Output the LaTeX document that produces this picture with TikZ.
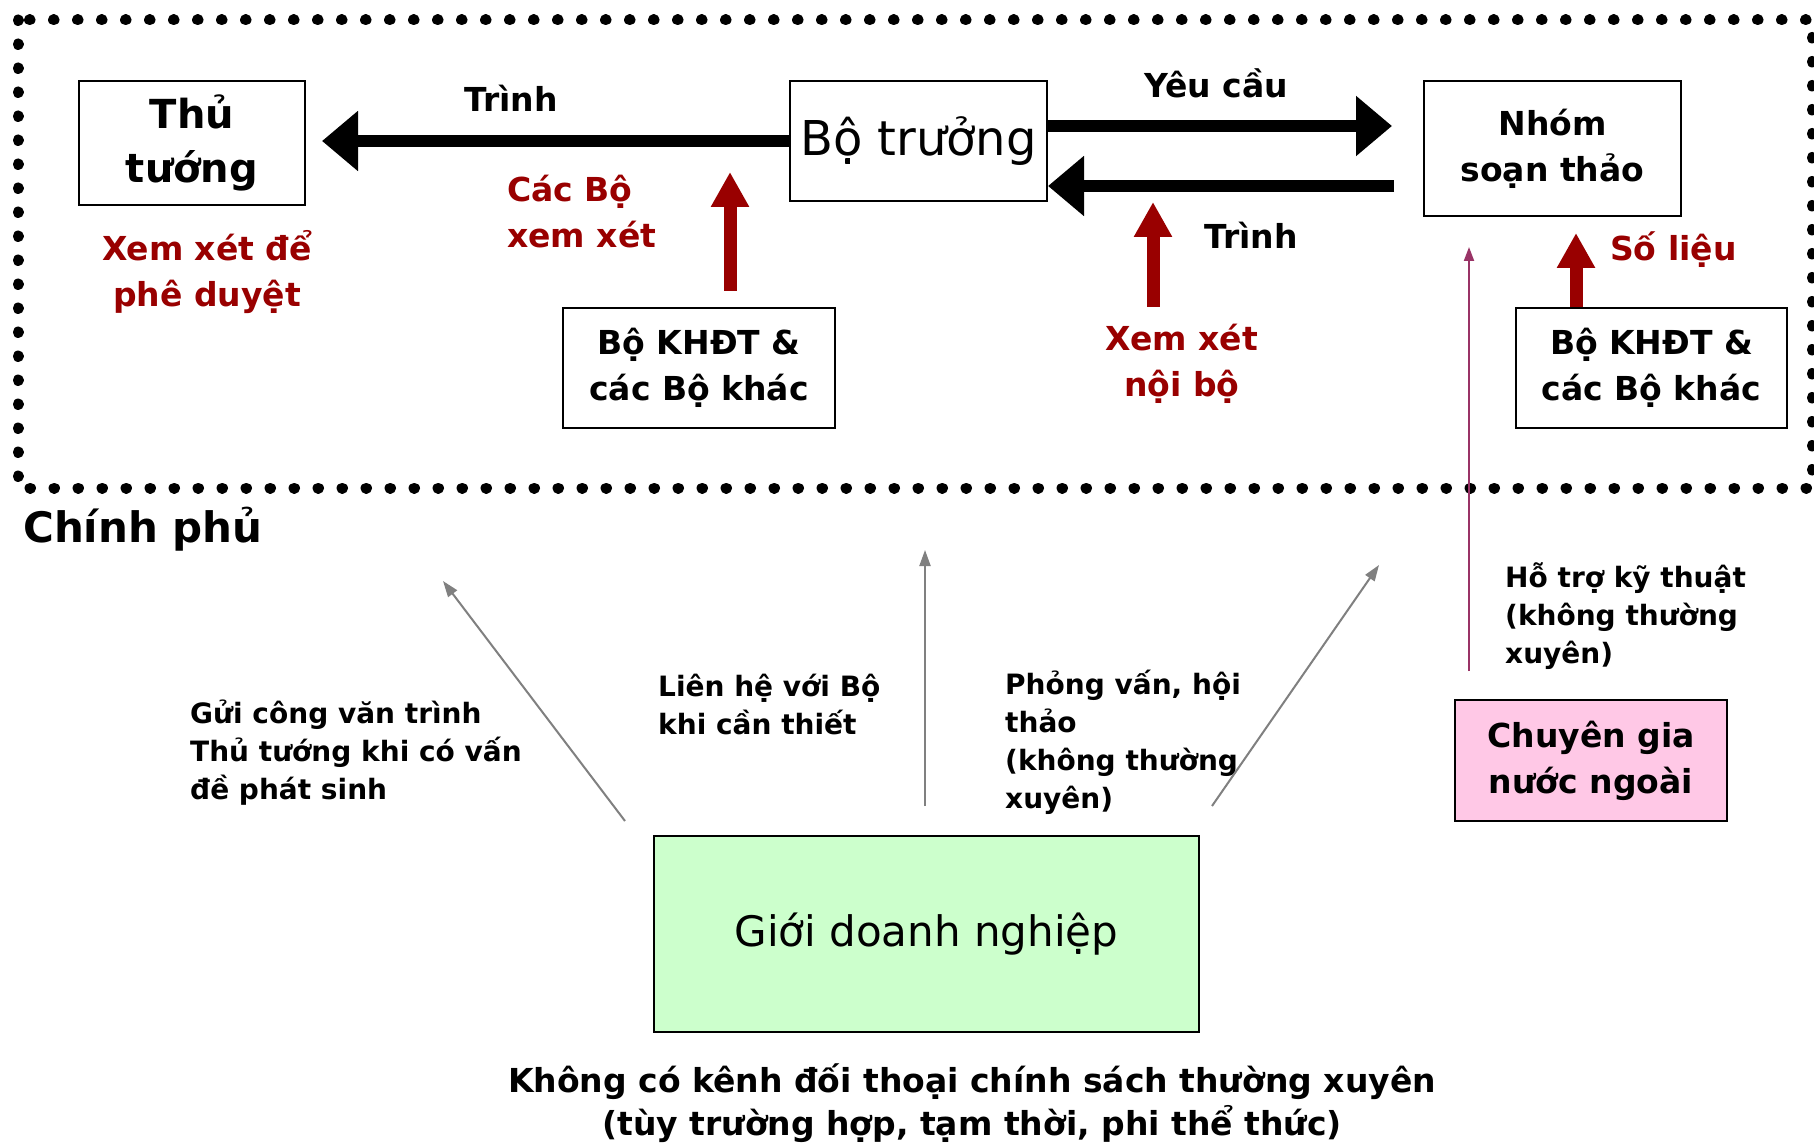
\documentclass[tikz,border=0pt]{standalone}
\usepackage{fontspec}
\setmainfont{DejaVu Sans}
\usetikzlibrary{arrows.meta}
\definecolor{dred}{HTML}{990000}
\definecolor{pinkfill}{HTML}{FFC8E6}
\definecolor{greenfill}{HTML}{CCFFCC}
\definecolor{grayline}{HTML}{808080}
\definecolor{purpleline}{HTML}{993366}
\begin{document}
\begin{tikzpicture}[x=1pt,y=-1pt,
  box/.style={draw=black, line width=2pt, inner sep=0pt, align=center},
  bigfont/.style={font=\bfseries\fontsize{40}{54}\selectfont},
  midfont/.style={font=\bfseries\fontsize{33}{46}\selectfont},
  smallfont/.style={font=\bfseries\fontsize{28}{38}\selectfont},
  lbl/.style={inner sep=0pt},
  redlbl/.style={inner sep=0pt, text=dred, midfont},
  bigarrow/.style={draw=black, line width=12pt, -{Triangle[length=36pt,width=58pt]}},
  redarrow/.style={draw=dred, line width=13pt, -{Triangle[length=35pt,width=36pt]}},
  grayarrow/.style={draw=grayline, line width=2pt, -{Triangle[length=16pt,width=11pt]}},
  purplearrow/.style={draw=purpleline, line width=2pt, -{Triangle[length=14pt,width=10pt]}},
  dotframe/.style={draw=black, line width=11pt, line cap=round, dash pattern=on 0.5pt off 23.5pt}
]
\useasboundingbox (0,0) rectangle (1814,1147);
\fill[white] (0,0) rectangle (1814,1147);
\draw[dotframe] (18,20) rectangle (1812,488);

% boxes
\node[box, bigfont, minimum width=226pt, minimum height=124pt] (thutuong) at (192,143) {Thủ\\tướng};
\node[box, font=\fontsize{48}{58}\selectfont, minimum width=257pt, minimum height=120pt] (botruong) at (918.5,141) {Bộ trưởng};
\node[box, midfont, minimum width=257pt, minimum height=135pt] (nhom) at (1552.5,148.5) {Nhóm\\soạn thảo};
\node[box, midfont, minimum width=272pt, minimum height=120pt] (khdtL) at (699,368) {Bộ KHĐT \&\\các Bộ khác};
\node[box, midfont, minimum width=271pt, minimum height=120pt] (khdtR) at (1651.5,368) {Bộ KHĐT \&\\các Bộ khác};
\node[box, midfont, fill=pinkfill, minimum width=272pt, minimum height=121pt] (chuyengia) at (1591,760.5) {Chuyên gia\\nước ngoài};
\node[box, font=\fontsize{42}{50}\selectfont, fill=greenfill, minimum width=545pt, minimum height=196pt] (dn) at (926.5,934) {Giới doanh nghiệp};

% labels
\node[lbl, midfont] (trinh1) at (511,98) {Trình};
\node[lbl, midfont] (yeucau) at (1216,83) {Yêu cầu};
\node[lbl, midfont] (trinh2) at (1251,235) {Trình};
\node[redlbl, align=left, anchor=west] (cacbo) at (507,212) {Các Bộ\\xem xét};
\node[redlbl, align=center] (xemxetde) at (207,272) {Xem xét để\\phê duyệt};
\node[redlbl, align=center] (noibo) at (1182,364) {Xem xét\\nội bộ};
\node[redlbl, anchor=west] (solieu) at (1610,250) {Số liệu};
\node[lbl, font=\bfseries\fontsize{42}{50}\selectfont, anchor=west] (chinhphu) at (23,529) {Chính phủ};
\node[lbl, smallfont, align=left, anchor=west] (guicv) at (190,753) {Gửi công văn trình\\Thủ tướng khi có vấn\\đề phát sinh};
\node[lbl, smallfont, align=left, anchor=west] (lienhe) at (658,704) {Liên hệ với Bộ\\khi cần thiết};
\node[lbl, smallfont, align=left, anchor=west] (phongvan) at (1005,742) {Phỏng vấn, hội\\thảo\\(không thường\\xuyên)};
\node[lbl, smallfont, align=left, anchor=west] (hotro) at (1505,616.5) {Hỗ trợ kỹ thuật\\(không thường\\xuyên)};
\node[lbl, font=\bfseries\fontsize{33}{43}\selectfont, align=center] (bottom) at (972,1103) {Không có kênh đối thoại chính sách thường xuyên\\(tùy trường hợp, tạm thời, phi thể thức)};

% black arrows
\draw[bigarrow, shorten >=16pt] (botruong.west) -- (botruong.west -| thutuong.east);
\draw[bigarrow, shorten >=31pt] ([yshift=15pt]botruong.east) -- ([yshift=15pt]botruong.east -| nhom.west);
\draw[bigarrow, shorten <=29pt] ([yshift=-45pt]botruong.east -| nhom.west) -- ([yshift=-45pt]botruong.east);

% red arrows
\coordinate (rA) at (730,172);
\coordinate (rB) at (1153,202);
\coordinate (rC) at (1576,232);
\draw[redarrow, shorten <=16pt] (khdtL.north -| rA) -- (rA);
\draw[redarrow] (1153,307) -- (rB);
\draw[redarrow, shorten >=16pt] (khdtR.north -| rC) -- (rC |- nhom.south);

% gray arrows
\coordinate (gA) at (443,581);
\coordinate (gB) at (925,550);
\coordinate (gC) at (1379,565);
\draw[grayarrow] (625,821) -- (gA);
\draw[grayarrow] (925,806) -- (gB);
\draw[grayarrow] (1212,806) -- (gC);

% purple arrow
\coordinate (pA) at (1469,247);
\draw[purplearrow] (1469,671) -- (pA);
\end{tikzpicture}
\end{document}
